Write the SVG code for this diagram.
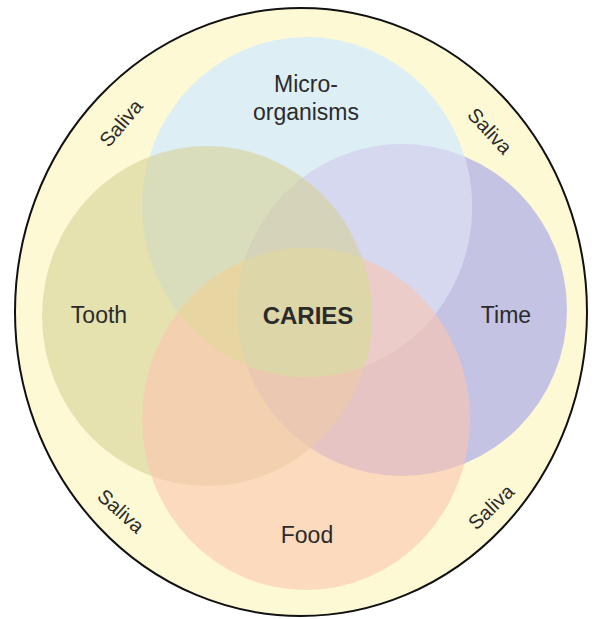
<svg xmlns="http://www.w3.org/2000/svg" width="601" height="619" viewBox="0 0 601 619">
<style>
.lbl{font-family:"Liberation Sans",Arial,sans-serif;font-size:23px;fill:#2b2b2b;text-anchor:middle}
.sal{font-family:"Liberation Sans",Arial,sans-serif;font-size:20px;fill:#2b2b2b;text-anchor:middle}
.bold{font-weight:bold;font-size:24px}
</style>
<defs>
<clipPath id="cBlue"><ellipse cx="307" cy="207" rx="165" ry="170"/></clipPath>
<clipPath id="cTooth"><ellipse cx="207" cy="316" rx="165" ry="170"/></clipPath>
<clipPath id="cFood"><ellipse cx="306" cy="419" rx="164" ry="171"/></clipPath>
<clipPath id="cTime"><ellipse cx="402" cy="310" rx="165" ry="166"/></clipPath>
</defs>
<rect width="601" height="619" fill="#ffffff"/>
<g id="saliva">
<ellipse cx="301" cy="312" rx="286" ry="304" fill="#fdf9d4" stroke="#111" stroke-width="2"/>
</g>
<g id="time"><ellipse cx="402" cy="310" rx="165" ry="166" fill="#c5c3e3"/></g>
<g id="microorganisms"><ellipse cx="307" cy="207" rx="165" ry="170" fill="#d6ebfd" fill-opacity="0.8"/></g>
<g id="blue-time" clip-path="url(#cBlue)"><ellipse cx="402" cy="310" rx="165" ry="166" fill="#d5d8ef"/></g>
<g id="tooth"><ellipse cx="207" cy="316" rx="165" ry="170" fill="#d6d296" fill-opacity="0.6"/></g>
<g id="food"><ellipse cx="306" cy="419" rx="164" ry="171" fill="#fbc5af" fill-opacity="0.6"/></g>
<g id="overlap">
<g clip-path="url(#cBlue)"><g clip-path="url(#cTooth)">
<ellipse cx="306" cy="419" rx="164" ry="171" fill="#e8d6a2"/>
</g></g>
<g clip-path="url(#cBlue)"><g clip-path="url(#cTooth)"><g clip-path="url(#cFood)">
<ellipse cx="402" cy="310" rx="165" ry="166" fill="#ddd6a8"/>
</g></g></g>
</g>
<g id="connectors"></g>
<g id="labels">
<text class="lbl" x="306" y="92">Micro-</text>
<text class="lbl" x="306" y="120">organisms</text>
<text class="lbl" x="99" y="323">Tooth</text>
<text class="lbl bold" x="308" y="324">CARIES</text>
<text class="lbl" x="506" y="323">Time</text>
<text class="lbl" x="307" y="543">Food</text>
<text class="sal" transform="translate(121,123) rotate(-50)" y="7">Saliva</text>
<text class="sal" transform="translate(490,131) rotate(47)" y="7">Saliva</text>
<text class="sal" transform="translate(121,511) rotate(42)" y="7">Saliva</text>
<text class="sal" transform="translate(491,507) rotate(-44)" y="7">Saliva</text>
</g>
</svg>
